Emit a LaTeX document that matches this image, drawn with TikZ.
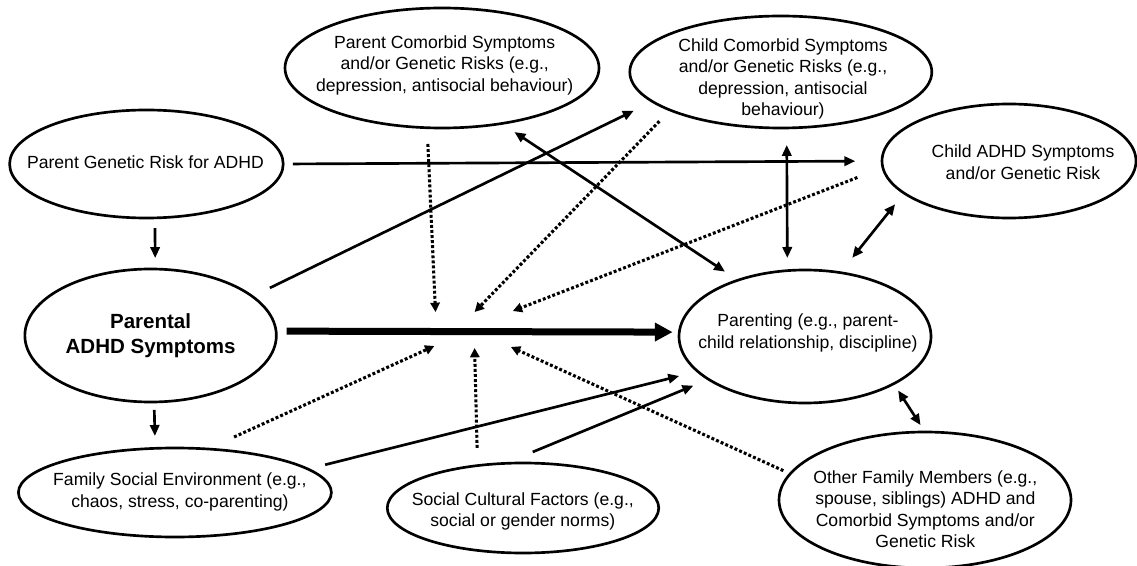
\documentclass[tikz,border=0pt]{standalone}
\usepackage{fontspec}
\setmainfont{Liberation Sans}
\usetikzlibrary{arrows.meta,shapes.geometric}
\begin{document}
\begin{tikzpicture}[x=0.75pt,y=-0.75pt,
  oval/.style={ellipse,draw,line width=2pt,inner sep=0pt,outer sep=0pt},
  lbl/.style={align=center,font=\fontsize{13.2pt}{16.1pt}\selectfont,inner sep=0pt},
  boldlbl/.style={align=center,font=\fontsize{15.4pt}{18.75pt}\selectfont\bfseries,inner sep=0pt},
  onearrow/.style={line width=2pt,-{Triangle[length=8.25pt,width=7pt]}},
  twoway/.style={line width=2pt,{Triangle[length=8.25pt,width=7pt]}-{Triangle[length=8.25pt,width=7pt]}},
  modline/.style={line width=2.3pt,dash pattern=on 2.2pt off 1.6pt,-{Triangle[length=7pt,width=7pt]}},
  mainarrow/.style={line width=5.25pt,-{Triangle[length=13.3pt,width=13.3pt]}}]
\useasboundingbox (0,0) rectangle (1137,566);

% ellipses
\node[oval,minimum width=205.2pt,minimum height=81pt] (PG) at (146.4,164) {};
\node[oval,minimum width=235.5pt,minimum height=90pt] (PC) at (442,68) {};
\node[oval,minimum width=226.5pt,minimum height=84pt] (CC) at (780.8,72) {};
\node[oval,minimum width=190.5pt,minimum height=85.5pt] (CA) at (1009,161) {};
\node[oval,minimum width=188.6pt,minimum height=99.75pt] (PA) at (150.6,335.5) {};
\node[oval,minimum width=234.75pt,minimum height=66.75pt] (FS) at (174.9,492.5) {};
\node[oval,minimum width=203.6pt,minimum height=67.5pt] (SC) at (523,508) {};
\node[oval,minimum width=189pt,minimum height=99.75pt] (PR) at (805,336.5) {};
\node[oval,minimum width=219pt,minimum height=102pt] (OF) at (925,500) {};

% texts
\node[lbl] (PGt) at (145.4,162) {Parent Genetic Risk for ADHD};
\node[lbl] (PCt) at (444.7,65) {Parent Comorbid Symptoms\\and/or Genetic Risks (e.g.,\\depression, antisocial behaviour)};
\node[lbl] (CCt) at (783,79) {Child Comorbid Symptoms\\and/or Genetic Risks (e.g.,\\depression, antisocial\\behaviour)};
\node[lbl] (CAt) at (1023,162) {Child ADHD Symptoms\\and/or Genetic Risk};
\node[boldlbl] (PAt) at (150.6,335.5) {Parental\\ADHD Symptoms};
\node[lbl] (FSt) at (179.9,492) {Family Social Environment (e.g.,\\chaos, stress, co-parenting)};
\node[lbl] (SCt) at (522.8,511.5) {Social Cultural Factors (e.g.,\\social or gender norms)};
\node[lbl] (PRt) at (807.9,333) {Parenting (e.g., parent-\\child relationship, discipline)};
\node[lbl] (OFt) at (925.3,509) {Other Family Members (e.g.,\\spouse, siblings) ADHD and\\Comorbid Symptoms and/or\\Genetic Risk};

% free ends of moderator arrows
\coordinate (m1) at (435.5,312);
\coordinate (m2) at (474.6,312);
\coordinate (m3) at (512.8,311);
\coordinate (m4) at (434.4,346);
\coordinate (m5) at (474.6,348);
\coordinate (m6) at (510.9,347);

% solid connectors
\draw[onearrow,shorten <=7.6pt,shorten >=8.25pt] (PG.279.1) -- (PA.86.2);
\draw[onearrow,shorten <=6pt,shorten >=9.3pt] (PA.273.8) -- (FS.114.3);
\draw[onearrow,shorten <=7.3pt,shorten >=20pt] (PG.0.84) -- (CA.180.45);
\draw[onearrow,shorten <=14.6pt,shorten >=15.7pt] (PA.21) -- (CC.193.8);
\draw[twoway,shorten <=11.6pt,shorten >=11.6pt] (PR.140.6) -- (PC.317.2);
\draw[twoway,shorten <=12.75pt,shorten >=9.5pt] (CC.276.3) -- (PR.105.3);
\draw[twoway,shorten <=10.7pt,shorten >=14.25pt] (CA.197.7) -- (PR.61.9);
\draw[twoway,shorten <=6pt,shorten >=6.15pt] (PR.332.5) -- (OF.90);
\draw[onearrow,shorten <=13.35pt,shorten >=14.3pt] (FS.10.45) -- (PR.198);
\draw[onearrow,shorten <=22.5pt,shorten >=12.4pt] (SC.112.1) -- (PR.204.4);
\draw[mainarrow,shorten <=8pt,shorten >=5pt] (PA.2.06) -- (PR.178.4);

% moderator (dotted) connectors
\draw[modline,shorten <=12.2pt] (PC.256.1) -- (m1);
\draw[modline,shorten <=11.6pt] (CC.199.8) -- (m2);
\draw[modline,shorten <=20.5pt] (CA.183.7) -- (m3);
\draw[modline,shorten <=21.75pt] (FS.53.6) -- (m4);
\draw[modline,shorten <=13.3pt] (SC.137.5) -- (m5);
\draw[modline,shorten <=5.7pt] (OF.169.7) -- (m6);
\end{tikzpicture}
\end{document}
